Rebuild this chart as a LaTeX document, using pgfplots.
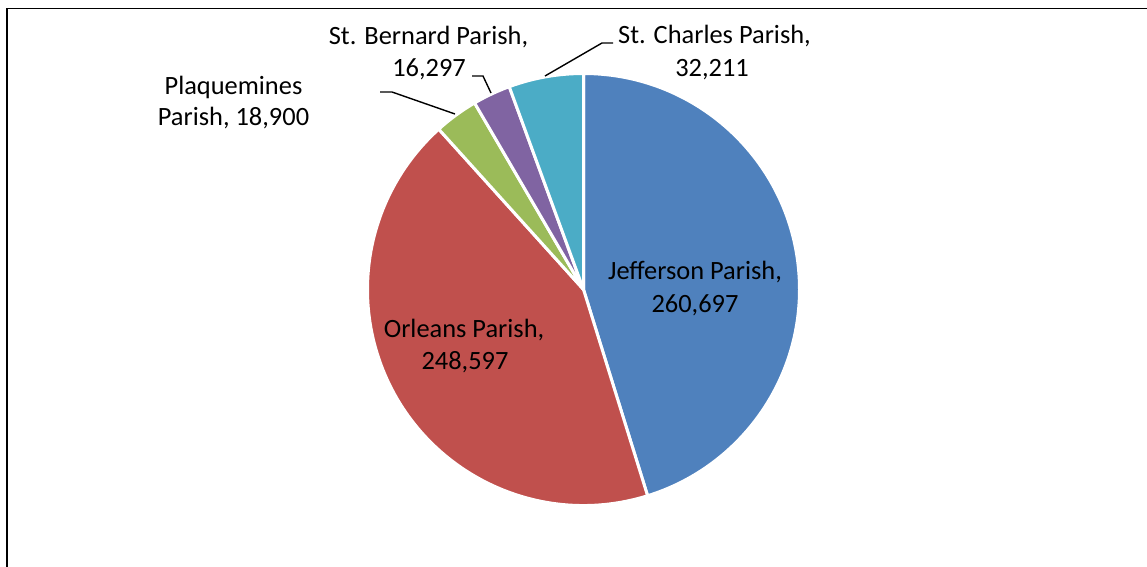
\documentclass[border=0pt]{standalone}
\usepackage{pgfplots}
\usepackage{pgfplotstable}
\pgfplotsset{compat=1.18}
\usepackage{fontspec}
\setmainfont{Carlito}

\definecolor{cJ}{HTML}{4F81BD}
\definecolor{cO}{HTML}{C0504D}
\definecolor{cP}{HTML}{9BBB59}
\definecolor{cB}{HTML}{8064A2}
\definecolor{cC}{HTML}{4BACC6}

\tikzset{lbl/.style={font=\fontsize{13.2}{16}\selectfont, text=black, anchor=base, inner sep=0pt}}

% Population by parish
\pgfplotstableread[col sep=comma]{
name,value
Jefferson Parish,260697
Orleans Parish,248597
Plaquemines Parish,18900
St. Bernard Parish,16297
St. Charles Parish,32211
}\pietable

\pgfplotstablegetelem{0}{value}\of\pietable \edef\vJ{\pgfplotsretval}
\pgfplotstablegetelem{1}{value}\of\pietable \edef\vO{\pgfplotsretval}
\pgfplotstablegetelem{2}{value}\of\pietable \edef\vP{\pgfplotsretval}
\pgfplotstablegetelem{3}{value}\of\pietable \edef\vB{\pgfplotsretval}
\pgfplotstablegetelem{4}{value}\of\pietable \edef\vC{\pgfplotsretval}
\edef\tot{\fpeval{\vJ+\vO+\vP+\vB+\vC}}
% cumulative angles, clockwise from 12 o'clock
\edef\aA{90}
\edef\aB{\fpeval{\aA-360*\vJ/\tot}}
\edef\aC{\fpeval{\aB-360*\vO/\tot}}
\edef\aD{\fpeval{\aC-360*\vP/\tot}}
\edef\aE{\fpeval{\aD-360*\vB/\tot}}
\edef\aF{\fpeval{\aE-360*\vC/\tot}}

\newcommand{\piewedge}[3]{%
  \filldraw[fill=#1, draw=white, line width=1.5pt, line join=round]
    (axis cs:583.5,289.5) -- ++(#2:108pt) arc[start angle=#2, end angle=#3, radius=108pt] -- cycle;}

\begin{document}
\begin{tikzpicture}
\begin{axis}[
  scale only axis, width=573.5pt, height=283.5pt,
  xmin=0, xmax=1147, ymin=0, ymax=567, y dir=reverse,
  hide axis, clip=false,
]
\piewedge{cJ}{\aA}{\aB}
\piewedge{cO}{\aB}{\aC}
\piewedge{cP}{\aC}{\aD}
\piewedge{cB}{\aD}{\aE}
\piewedge{cC}{\aE}{\aF}

% frame
\draw[black, line width=0.9pt] (axis cs:7,567) -- (axis cs:7,8.5) -- (axis cs:1147,8.5);

% leader lines
\draw[black, line width=0.7pt] (axis cs:380,92) -- (axis cs:392,92) -- (axis cs:455,114);
\draw[black, line width=0.7pt] (axis cs:472,76) -- (axis cs:483,76) -- (axis cs:491,93);
\draw[black, line width=0.7pt] (axis cs:545,76) -- (axis cs:602,43) -- (axis cs:613,43);

% labels
\node[lbl] at (axis cs:695,279) {Jefferson Parish,};
\node[lbl] at (axis cs:695,312) {260,697};
\node[lbl] at (axis cs:464,337) {Orleans Parish,};
\node[lbl] at (axis cs:465,369) {248,597};
\node[lbl] at (axis cs:233.5,95) {Plaquemines};
\node[lbl] at (axis cs:233.5,126) {Parish, 18,900};
\node[lbl] at (axis cs:428.5,45) {St. Bernard Parish,};
\node[lbl] at (axis cs:429,77) {16,297};
\node[lbl] at (axis cs:714.5,44) {St. Charles Parish,};
\node[lbl] at (axis cs:712,77) {32,211};
\end{axis}
\pgfresetboundingbox
\useasboundingbox (0,0) rectangle (573.5pt,283.5pt);
\end{tikzpicture}
\end{document}
